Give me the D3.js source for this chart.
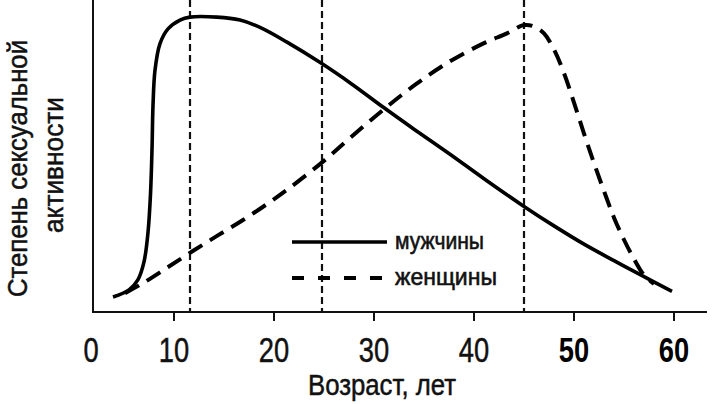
<!DOCTYPE html>
<html lang="ru">

<head>
	<meta charset="utf-8">
	<style>
		body {
			margin: 0;
			background-color: white;
		}

		svg {
			display: block;
			background-color: white;
			font-family: 'Liberation Sans', Arial, sans-serif;
		}

		.axis-line {
			stroke: #111;
			stroke-width: 2px;
		}

		.tick-mark {
			stroke: #111;
			stroke-width: 2px;
		}

		.tick-label {
			fill: #111;
			stroke: #111;
			stroke-width: 0.5px;
			font-size: 35px;
		}

		.tick-label.strong {
			font-weight: bold;
			fill: #000;
			stroke: none;
		}

		.axis-title {
			fill: #111;
			stroke: #111;
			stroke-width: 0.5px;
			font-size: 29px;
		}

		.marker-line {
			stroke: #111;
			stroke-width: 2.2px;
			stroke-dasharray: 7, 4;
		}

		.men {
			fill: none;
			stroke: #000;
			stroke-width: 3.6px;
		}

		.women {
			fill: none;
			stroke: #000;
			stroke-width: 4px;
			stroke-dasharray: 16, 9;
		}

		.legend text {
			fill: #111;
			stroke: #111;
			stroke-width: 0.6px;
			font-size: 24px;
		}
	</style>
</head>

<body>
	<svg width="720" height="404"></svg>
	<script src="https://d3js.org/d3.v7.min.js"></script>
	<script>
		// values: age (years) / activity (0..100)
		const menAge = [3.9, 5.5, 6.4, 7.0, 7.4, 7.65, 7.8, 7.9, 8.1, 8.6, 9.4, 10.6, 11.6, 14.3, 16.6, 18.6, 21.3, 24.7, 27.9, 30.9, 34, 37.6, 41, 45, 48, 51, 54, 57, 59.8];
		const menValue = [5.1, 7.5, 11, 17, 27, 40, 55, 70, 82, 91, 96, 99, 100, 100, 99, 96.5, 91.5, 84.4, 77, 69.5, 62, 53.5, 45.2, 35.8, 29.2, 23, 17.4, 12, 7];

		const womenAge = [5.1, 7, 9.3, 11.8, 14.3, 16.9, 19.3, 21.6, 24.9, 27.6, 30.9, 34.3, 37.6, 40.9, 43.3, 45, 46, 47, 48, 49, 50, 51, 52, 53, 54, 55, 56, 57, 58];
		const womenValue = [6.4, 10, 15, 20.5, 25.8, 31.2, 36.6, 42.2, 51, 59, 68.5, 77.5, 85, 91, 94.5, 97.3, 96.8, 94.5, 89, 81, 71, 60.5, 50.5, 41, 32, 24.5, 18, 12.5, 9.5];

		const markerAges = [11.6, 24.8, 45];
		const xTicks = [10, 20, 30, 40, 50, 60];
		const xTickLabels = ["10", "20", "30", "40", "50", "60"];
		const legendLabels = ["мужчины", "женщины"];

		const width = 720;
		const height = 404;
		const originX = 93;   // y axis position
		const axisY = 312;
		const axisRight = 707;

		const x = d3.scaleLinear().domain([0, 60]).range([74, 674]);
		const y = d3.scaleLinear().domain([0, 105.8]).range([axisY, 0]);

		const svg = d3.select("svg");

		const line = d3.line()
			.x(d => x(d[0]))
			.y(d => y(d[1]))
			.curve(d3.curveCatmullRom.alpha(0.5));

		// dashed age markers
		svg.append("g")
			.selectAll("line")
			.data(markerAges)
			.enter().append("line")
			.attr("class", "marker-line")
			.attr("x1", d => x(d))
			.attr("x2", d => x(d))
			.attr("y1", y(105.8))
			.attr("y2", axisY);

		// axes
		svg.append("line")
			.attr("class", "axis-line")
			.attr("x1", originX).attr("x2", originX)
			.attr("y1", 0).attr("y2", axisY + 1);
		svg.append("line")
			.attr("class", "axis-line")
			.attr("x1", originX).attr("x2", axisRight)
			.attr("y1", axisY).attr("y2", axisY);

		// the scan uses a narrow face, so squeeze the labels
		const narrow = 0.78;
		const ticks = svg.append("g").attr("class", "axis-x");
		ticks.selectAll("line")
			.data(xTicks)
			.enter().append("line")
			.attr("class", "tick-mark")
			.attr("x1", d => x(d)).attr("x2", d => x(d))
			.attr("y1", axisY).attr("y2", axisY + 9);
		ticks.selectAll("text")
			.data(xTicks)
			.enter().append("text")
			.attr("class", d => d >= 50 ? "tick-label strong" : "tick-label")
			.attr("transform", d => "translate(" + x(d) + ",362) scale(" + narrow + ",1)")
			.attr("text-anchor", "middle")
			.text((d, i) => xTickLabels[i]);
		// zero sits at the corner
		ticks.append("text")
			.attr("class", "tick-label")
			.attr("transform", "translate(" + (originX - 2) + ",362) scale(" + narrow + ",1)")
			.attr("text-anchor", "middle")
			.text("0");

		svg.append("text")
			.attr("class", "axis-title")
			.attr("x", 308).attr("y", 395)
			.attr("textLength", 148)
			.attr("lengthAdjust", "spacingAndGlyphs")
			.text("Возраст, лет");

		svg.append("text")
			.attr("class", "axis-title")
			.style("font-size", "27px")
			.attr("transform", "translate(27,297) rotate(-90)")
			.attr("textLength", 257)
			.attr("lengthAdjust", "spacingAndGlyphs")
			.text("Степень сексуальной");
		svg.append("text")
			.attr("class", "axis-title")
			.style("font-size", "27px")
			.attr("transform", "translate(63,233) rotate(-90)")
			.attr("textLength", 136)
			.attr("lengthAdjust", "spacingAndGlyphs")
			.text("активности");

		// curves
		svg.append("path")
			.attr("class", "women")
			.attr("d", line(d3.zip(womenAge, womenValue)));
		svg.append("path")
			.attr("class", "men")
			.attr("d", line(d3.zip(menAge, menValue)));

		// legend
		const legendWidths = [89, 102];
		const legend = svg.append("g").attr("class", "legend");
		const legendRows = legend.selectAll("g")
			.data(legendLabels)
			.enter().append("g")
			.attr("transform", (d, i) => "translate(292," + (242 + i * 36) + ")");
		legendRows.append("line")
			.attr("class", (d, i) => i === 0 ? "men" : "women")
			.attr("x1", 0).attr("x2", 95)
			.attr("y1", 0).attr("y2", 0)
			.style("stroke-dasharray", (d, i) => i === 0 ? null : "12, 14");
		legendRows.append("text")
			.attr("x", 103)
			.attr("y", 7)
			.attr("textLength", (d, i) => legendWidths[i])
			.attr("lengthAdjust", "spacingAndGlyphs")
			.text(d => d);
	</script>
</body>

</html>
